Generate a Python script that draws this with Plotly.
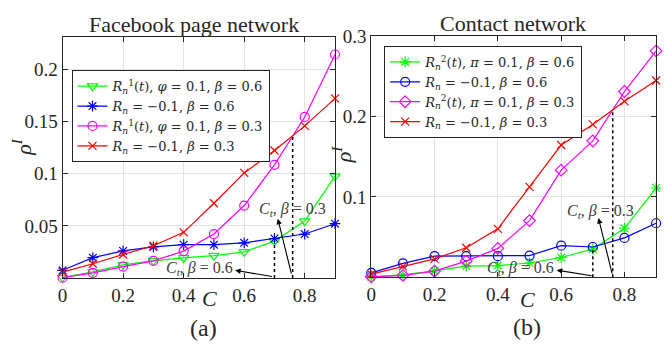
import plotly.graph_objects as go

C = [0, 0.1, 0.2, 0.3, 0.4, 0.5, 0.6, 0.7, 0.8, 0.9]

# Facebook page network (a)
fb_phi_b06 = [0.0005, 0.0059, 0.0127, 0.0165, 0.0193, 0.0214, 0.0251, 0.0354, 0.0546, 0.0978]
fb_rn_b06 = [0.0074, 0.0195, 0.0260, 0.0298, 0.0320, 0.0320, 0.0338, 0.0379, 0.0422, 0.0521]
fb_phi_b03 = [0.0003, 0.0050, 0.0110, 0.0165, 0.0258, 0.0422, 0.0695, 0.1086, 0.1545, 0.2144]
fb_rn_b03 = [0.0056, 0.0137, 0.0226, 0.0310, 0.0438, 0.0717, 0.1008, 0.1223, 0.1459, 0.1723]
fb_ct_x = [0.70, 0.76]
fb_ct_y = [0.0354, 0.1366]

# Contact network (b)
ct_pi_b06 = [0.0007, 0.0030, 0.0080, 0.0140, 0.0146, 0.0178, 0.0247, 0.0352, 0.0610, 0.1110]
ct_rn_b06 = [0.0056, 0.0174, 0.0263, 0.0263, 0.0263, 0.0271, 0.0393, 0.0377, 0.0490, 0.0672]
ct_pi_b03 = [0.0007, 0.0024, 0.0077, 0.0202, 0.0360, 0.0705, 0.1332, 0.1696, 0.2309, 0.2814]
ct_rn_b03 = [0.0040, 0.0137, 0.0230, 0.0368, 0.0603, 0.1125, 0.1644, 0.1900, 0.2187, 0.2446]
ct_ct_x = [0.70, 0.763]
ct_ct_y = [0.0350, 0.2057]

x_ticks = [0, 0.2, 0.4, 0.6, 0.8]
x_ticktext = ["0", "0.2", "0.4", "0.6", "0.8"]
fb_yticks = [0.05, 0.1, 0.15, 0.2]
fb_yticktext = ["0.05", "0.1", "0.15", "0.2"]
ct_yticks = [0.1, 0.2, 0.3]
ct_yticktext = ["0.1", "0.2", "0.3"]

FONT = "Liberation Serif"
LFONT = "DejaVu Serif"
GREEN, BLUE, MAG, RED = "#00ff00", "#0000ff", "#ff00ff", "#ff0000"

fig = go.Figure()

def add_series(x, y, name, color, symbol, xa, ya, legend, size=9):
    fig.add_trace(go.Scatter(
        x=x, y=y, mode="lines+markers", name=name, cliponaxis=False,
        line=dict(color=color, width=1.2),
        marker=dict(symbol=symbol, size=size, color=color, line=dict(color=color, width=1.2)),
        xaxis=xa, yaxis=ya, legend=legend))

add_series(C, fb_phi_b06, "<i>R</i><sub><i>n</i></sub><sup>1</sup>(<i>t</i>), <i>φ</i> = 0.1, <i>β</i> = 0.6", GREEN, "triangle-down-open", "x", "y", "legend")
add_series(C, fb_rn_b06, "<i>R</i><sub><i>n</i></sub> = −0.1, <i>β</i> = 0.6", BLUE, "asterisk-open", "x", "y", "legend")
add_series(C, fb_phi_b03, "<i>R</i><sub><i>n</i></sub><sup>1</sup>(<i>t</i>), <i>φ</i> = 0.1, <i>β</i> = 0.3", MAG, "circle-open", "x", "y", "legend")
add_series(C, fb_rn_b03, "<i>R</i><sub><i>n</i></sub> = −0.1, <i>β</i> = 0.3", RED, "x-thin-open", "x", "y", "legend", size=8)

add_series(C, ct_pi_b06, "<i>R</i><sub><i>n</i></sub><sup>2</sup>(<i>t</i>), <i>π</i> = 0.1, <i>β</i> = 0.6", GREEN, "asterisk-open", "x2", "y2", "legend2")
add_series(C, ct_rn_b06, "<i>R</i><sub><i>n</i></sub> = −0.1, <i>β</i> = 0.6", BLUE, "circle-open", "x2", "y2", "legend2")
add_series(C, ct_pi_b03, "<i>R</i><sub><i>n</i></sub><sup>2</sup>(<i>t</i>), <i>π</i> = 0.1, <i>β</i> = 0.3", MAG, "diamond-open", "x2", "y2", "legend2")
add_series(C, ct_rn_b03, "<i>R</i><sub><i>n</i></sub> = −0.1, <i>β</i> = 0.3", RED, "x-thin-open", "x2", "y2", "legend2", size=8)

# dotted threshold lines
for xs, ys, xa, ya in [(fb_ct_x, fb_ct_y, "x", "y"), (ct_ct_x, ct_ct_y, "x2", "y2")]:
    for cx, cy in zip(xs, ys):
        fig.add_trace(go.Scatter(x=[cx, cx], y=[0, cy], mode="lines",
                                 line=dict(color="black", width=1.5, dash="dot"),
                                 showlegend=False, xaxis=xa, yaxis=ya, hoverinfo="skip"))

axis_common = dict(showline=True, linecolor="#262626", linewidth=1, mirror="ticks",
                   ticks="inside", ticklen=5, tickcolor="#262626",
                   showgrid=True, gridcolor="#e3e3e3", gridwidth=1, zeroline=False,
                   tickfont=dict(family=FONT, size=19, color="#262626"))

legend_common = dict(xanchor="left", yanchor="top", bgcolor="white",
                     bordercolor="#262626", borderwidth=1,
                     font=dict(family=LFONT, size=13, color="#262626"),
                     tracegroupgap=0, itemwidth=30)

fig.update_layout(
    width=672, height=346,
    margin=dict(l=0, r=0, t=0, b=0),
    paper_bgcolor="white", plot_bgcolor="white",
    font=dict(family=FONT, color="#262626"),
    xaxis=dict(domain=[58/672, 332.5/672], range=[0, 0.9], tickvals=x_ticks, ticktext=x_ticktext, anchor="y", **axis_common),
    yaxis=dict(domain=[1-276/346, 1-28/346], range=[0, 0.231], tickvals=fb_yticks, ticktext=fb_yticktext, anchor="x", **axis_common),
    xaxis2=dict(domain=[369/672, 656/672], range=[0, 0.9], tickvals=x_ticks, ticktext=x_ticktext, anchor="y2", **axis_common),
    yaxis2=dict(domain=[1-275.3/346, 1-26.7/346], range=[0, 0.3], tickvals=ct_yticks, ticktext=ct_yticktext, anchor="x2", **axis_common),
    legend=dict(x=67/672, y=1-62/346, **legend_common),
    legend2=dict(x=382/672, y=1-37/346, **legend_common),
    showlegend=True,
)

ann = []
def ptext(x, y, text, size, angle=0):
    ann.append(dict(x=x/672, y=1-y/346, xref="paper", yref="paper", text=text, showarrow=False,
                    xanchor="center", yanchor="middle", textangle=angle,
                    font=dict(family=FONT, size=size, color="#262626")))

ptext(190, 15, "Facebook page network", 22)
ptext(512, 14, "Contact network", 22)
ptext(206, 297, "<i>C</i>", 22)
ptext(526, 298, "<i>C</i>", 22)
ptext(200, 327, "(a)", 24)
ptext(526, 326, "(b)", 24)
ptext(17, 141, "<i>ρ</i><sup><i>I</i></sup>", 22, angle=-90)
ptext(339, 148, "<i>ρ</i><sup><i>I</i></sup>", 22, angle=-90)

ct03 = "<i>C</i><sub><i>t</i></sub>, <i>β</i> = 0.3"
ct06 = "<i>C</i><sub><i>t</i></sub>, <i>β</i> = 0.6"

def dtext(x, y, text, xa, ya):
    ann.append(dict(x=x, y=y, xref=xa, yref=ya, text=text, showarrow=False,
                    xanchor="center", yanchor="middle",
                    font=dict(family=FONT, size=16, color="#404040")))

def darrow(hx, hy, tx, ty, xa, ya):
    ann.append(dict(x=hx, y=hy, ax=tx, ay=ty, xref=xa, yref=ya, axref=xa, ayref=ya,
                    text="", showarrow=True, arrowhead=2, arrowsize=1, arrowwidth=1.1,
                    arrowcolor="black", standoff=0, startstandoff=0))

dtext(0.761, 0.0661, ct03, "x", "y")
darrow(0.711, 0.0568, 0.757, 0.0028, "x", "y")
dtext(0.452, 0.0093, ct06, "x", "y")
darrow(0.570, 0.0074, 0.697, 0.0012, "x", "y")

dtext(0.724, 0.0818, ct03, "x2", "y2")
darrow(0.718, 0.0736, 0.762, 0.0028, "x2", "y2")
dtext(0.473, 0.0105, ct06, "x2", "y2")
darrow(0.586, 0.0089, 0.701, 0.0016, "x2", "y2")

fig.update_layout(annotations=ann)
fig.write_html("out.html")
